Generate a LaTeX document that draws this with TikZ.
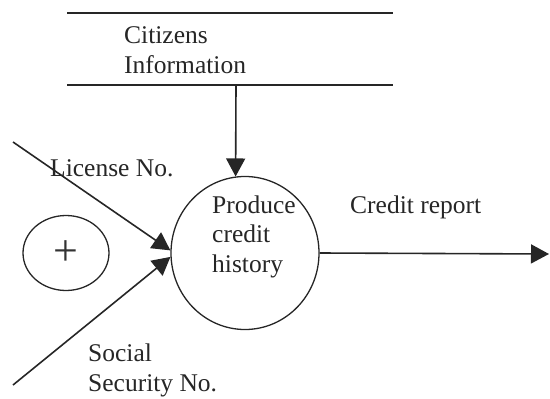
\documentclass[tikz,border=0pt]{standalone}
\usepackage{fontspec}
\setmainfont{Liberation Serif}
\usetikzlibrary{arrows.meta,shapes.geometric}
\begin{document}
\begin{tikzpicture}[x=1pt,y=-1pt,
  line/.style={line width=1.6pt,black!85},
  flow/.style={line/.try,-{Triangle[length=18pt,width=19pt]}},
  lbl/.style={anchor=base west,inner sep=0pt,font=\fontsize{25.5}{29.5}\selectfont,align=left,text=black!85},
  bubble/.style={ellipse,draw,line width=1.3pt,black!85,inner sep=0pt}]
\useasboundingbox (0,0) rectangle (550,399);
% data store
\coordinate (s1a) at (67,13); \coordinate (s1b) at (393,13);
\coordinate (s2a) at (67,85); \coordinate (s2b) at (393,85);
\draw[line] (s1a) -- (s1b);
\draw[line] (s2a) -- (s2b);
\node[lbl] (store) at (124,73) {Citizens\\Information};
% process
\node[bubble,minimum width=148pt,minimum height=153pt] (proc) at (245,253) {};
\node[lbl] (proctext) at (212,272) {Produce\\credit\\history};
% plus ellipse
\node[bubble,minimum width=86pt,minimum height=75pt,font=\fontsize{44}{44}\selectfont,text=black!80] (plus) at (66,253) {+};
% flows
\coordinate (storeout) at (236,85);
\draw[flow] (storeout) -- (proc.97);
\coordinate (licstart) at (13,142);
\coordinate (ssnstart) at (13,385);
\draw[flow] (licstart) -- (proc.178);
\draw[flow] (ssnstart) -- (proc.183);
\coordinate (outend) at (549,254);
\draw[flow] (proc.east) -- (outend);
% labels
\node[lbl] (lic) at (50,176) {License No.};
\node[lbl] (ssn) at (88,391) {Social\\Security No.};
\node[lbl] (rep) at (350,213) {Credit report};
\end{tikzpicture}
\end{document}
